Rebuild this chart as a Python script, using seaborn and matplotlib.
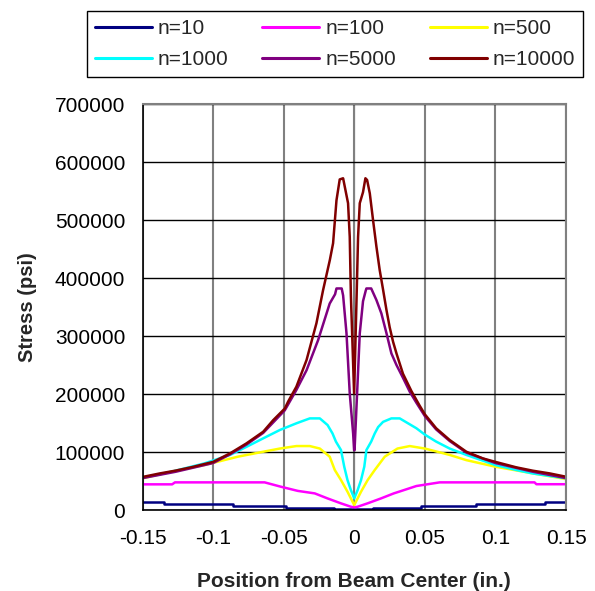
import matplotlib
matplotlib.use("Agg")
import matplotlib.pyplot as plt
import seaborn as sns
import pandas as pd
from matplotlib.ticker import FixedLocator, FuncFormatter

# ---------------- data ----------------
labels = ["n=10", "n=100", "n=500", "n=1000", "n=5000", "n=10000"]
colors = ["#000080", "#FF00FF", "#FFFF00", "#00FFFF", "#800080", "#800000"]

n10_x = [-0.15, -0.1345, -0.1345, -0.086, -0.086, -0.048, -0.048, -0.014, -0.014,
         0.0135, 0.0135, 0.0476, 0.0476, 0.0865, 0.0865, 0.1348, 0.1348, 0.15]
n10_y = [13200, 13200, 10300, 10300, 6900, 6900, 4300, 4300, 1600,
         1600, 4300, 4300, 6900, 6900, 10300, 10300, 13200, 13200]

n100_x = [-0.15, -0.129, -0.127, -0.0635, -0.052, -0.040, -0.028, -0.0189, -0.0094,
          -0.0024, 0.0, 0.0024, 0.0094, 0.0189, 0.028, 0.0322, 0.044, 0.0605,
          0.1277, 0.129, 0.15]
n100_y = [44300, 44300, 47700, 47700, 40200, 33000, 28700, 20000, 11500,
          5700, 4600, 5700, 11500, 20000, 28700, 32000, 41400, 47700,
          47700, 44500, 44500]

n500_x = [-0.15, -0.1296, -0.106, -0.0824, -0.0645, -0.0527, -0.041, -0.0315, -0.0244,
          -0.0174, -0.0138, -0.0094, -0.0048, -0.0012, 0.0, 0.0048, 0.0095, 0.0145,
          0.0216, 0.0306, 0.0393, 0.05, 0.0676, 0.0794, 0.1, 0.1265, 0.15]
n500_y = [54600, 66000, 77600, 92000, 100500, 106000, 110300, 110300, 106000,
          92000, 69000, 51700, 31600, 14300, 8600, 31600, 51700, 69000,
          92000, 106000, 110300, 106000, 95000, 86000, 74700, 63200, 53400]

n1000_x = [-0.15, -0.1296, -0.106, -0.088, -0.0763, -0.0645, -0.0527, -0.041, -0.0315,
           -0.0244, -0.0189, -0.0154, -0.013, -0.0094, -0.0071, -0.0048, -0.0024, 0.0,
           0.0024, 0.0048, 0.0071, 0.0086, 0.012, 0.0145, 0.0169, 0.0204, 0.0263,
           0.0322, 0.0381, 0.044, 0.05, 0.058, 0.0676, 0.0794, 0.1, 0.1148, 0.1265, 0.15]
n1000_y = [55700, 66000, 80500, 95000, 109000, 123600, 138000, 149500, 158000,
           158000, 146500, 132000, 118000, 103400, 74700, 51700, 34500, 20000,
           34500, 51700, 74700, 103400, 118000, 132000, 143000, 152000, 158000,
           158000, 149500, 141000, 130000, 118000, 106000, 95000, 77600, 69000, 63000, 54700]

n5000_x = [-0.15, -0.1265, -0.1, -0.088, -0.0763, -0.0645, -0.0492, -0.041, -0.0338,
           -0.0256, -0.0174, -0.0136, -0.0126, -0.0089, -0.0079, -0.0055, -0.0032,
           -0.0008, -0.0001, 0.0002, 0.002, 0.0039, 0.0062, 0.0081, 0.0086, 0.012,
           0.0157, 0.0192, 0.0228, 0.0263, 0.0299, 0.0345, 0.0393, 0.044, 0.05,
           0.058, 0.0676, 0.0794, 0.1, 0.1265, 0.15]
n5000_y = [55000, 66000, 81000, 96000, 113000, 133000, 172000, 207000, 241000,
           293000, 356000, 372000, 382000, 382000, 370000, 304600, 201000,
           132000, 103000, 103000, 201000, 304600, 360000, 378000, 382000, 382000,
           362000, 339000, 305000, 270000, 250000, 228000, 204000, 185000, 162000,
           139000, 119000, 99000, 81000, 66000, 55000]

n10000_x = [-0.15, -0.138, -0.1265, -0.115, -0.1, -0.088, -0.0763, -0.0645, -0.0574,
            -0.0492, -0.0469, -0.041, -0.0338, -0.0268, -0.0221, -0.0173, -0.015,
            -0.0126, -0.0103, -0.0079, -0.0044, -0.0032, -0.0024, -0.0001, 0.0016,
            0.0027, 0.0039, 0.0062, 0.0079, 0.0091, 0.011, 0.0133, 0.0157, 0.018,
            0.0204, 0.0228, 0.0251, 0.0275, 0.0299, 0.0345, 0.0405, 0.0463, 0.05,
            0.058, 0.0676, 0.0794, 0.0911, 0.1, 0.1148, 0.1265, 0.1383, 0.15]
n10000_y = [57000, 63000, 68000, 74000, 83000, 97700, 115000, 135000, 155000,
            175000, 186700, 212600, 258600, 322000, 379000, 431000, 460000,
            534000, 570000, 572000, 529000, 471000, 370000, 201000, 362000,
            471000, 529000, 548000, 572000, 569000, 546000, 500000, 454000, 414000,
            380000, 345000, 315000, 290000, 270000, 235000, 205000, 180000, 165000,
            141000, 120700, 100500, 89000, 83000, 73600, 67800, 63200, 57400]

xs = [n10_x, n100_x, n500_x, n1000_x, n5000_x, n10000_x]
ys = [n10_y, n100_y, n500_y, n1000_y, n5000_y, n10000_y]

x_ticks = [-0.15, -0.1, -0.05, 0, 0.05, 0.1, 0.15]
y_ticks = [0, 100000, 200000, 300000, 400000, 500000, 600000, 700000]

# ---------------- build long-form table ----------------
frames = []
for lab, x, y in zip(labels, xs, ys):
    frames.append(pd.DataFrame({"pos": x, "stress": y, "series": lab}))
df = pd.concat(frames, ignore_index=True)

# ---------------- plot ----------------
sns.set_style("white")
plt.rcParams["font.family"] = ["Liberation Sans", "DejaVu Sans"]

fig = plt.figure(figsize=(5.95, 5.91), dpi=100)
ax = fig.add_axes([0.2395, 0.137, 0.7118, 0.687])

sns.lineplot(data=df, x="pos", y="stress", hue="series", hue_order=labels,
             palette=dict(zip(labels, colors)), estimator=None, sort=False,
             units="series", linewidth=1.8, ax=ax)

ax.set_xlim(-0.15, 0.15)
ax.set_ylim(0, 700000)
ax.xaxis.set_major_locator(FixedLocator(x_ticks))
ax.yaxis.set_major_locator(FixedLocator(y_ticks))
ax.xaxis.set_major_formatter(FuncFormatter(lambda v, p: "0" if abs(v) < 1e-9 else f"{v:g}"))
ax.yaxis.set_major_formatter(FuncFormatter(lambda v, p: f"{v:.0f}"))

ax.set_axisbelow(True)
ax.yaxis.grid(True, color="black", linewidth=1.0)
ax.xaxis.grid(True, color="#808080", linewidth=1.5)
ax.axvline(0, color="#404040", linewidth=0.8, zorder=0.5)

for side in ["left", "bottom"]:
    ax.spines[side].set_color("black")
    ax.spines[side].set_linewidth(1.2)
for side in ["top", "right"]:
    ax.spines[side].set_color("#808080")
    ax.spines[side].set_linewidth(1.5)

ax.tick_params(axis="both", direction="out", length=4, width=1, color="black",
               labelsize=15, labelcolor="black")
ax.tick_params(axis="y", pad=8.5)
ax.tick_params(axis="x", pad=10)

ax.set_xlabel("Position from Beam Center (in.)", fontsize=15, fontweight="bold",
              labelpad=17)
ax.set_ylabel("Stress (psi)", fontsize=14.5, fontweight="bold", labelpad=13)

handles, labs = ax.get_legend_handles_labels()
ax.get_legend().remove()
hmap = dict(zip(labs, handles))
order = ["n=10", "n=1000", "n=100", "n=5000", "n=500", "n=10000"]
leg = fig.legend([hmap[k] for k in order], order, ncol=3, loc="center",
                 bbox_to_anchor=(335 / 595, 1 - 44 / 591), fontsize=15,
                 frameon=True, fancybox=False, edgecolor="black", framealpha=1,
                 handlelength=2.74, handletextpad=0.3, columnspacing=1.6,
                 labelspacing=0.59, borderpad=0.36)
leg.get_frame().set_linewidth(1.0)
for line in leg.get_lines():
    line.set_linewidth(2.2)

fig.savefig("out.png", dpi=100)
